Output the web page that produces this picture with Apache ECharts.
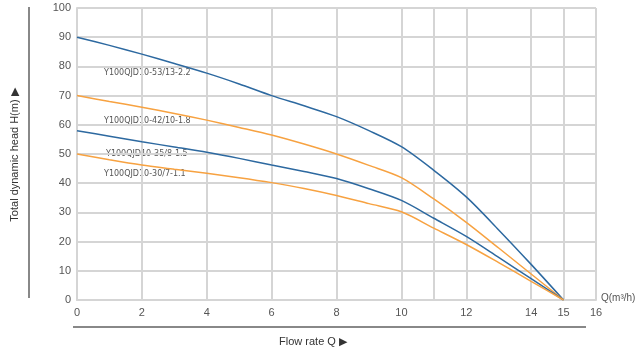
<!DOCTYPE html>
<html>
<head>
<meta charset="utf-8">
<script src="https://cdn.jsdelivr.net/npm/echarts@6/dist/echarts.min.js"></script>
<style>html,body{margin:0;padding:0;background:#fff;}#c{width:641px;height:349px;}</style>
</head>
<body>
<div id="c"></div>
<script>
// Flow rate Q (m3/h)
const flowQ = [0, 1, 2, 3, 4, 5, 6, 7, 8, 9, 10, 11, 12, 13, 14, 15];
// Head H (m) for each pump model
const head53 = [90, 87.2, 84.2, 81, 77.7, 74, 70, 66.5, 62.8, 58, 52.5, 44.4, 35.3, 24, 12.2, 0];
const head42 = [70, 68, 66, 63.9, 61.6, 59.1, 56.5, 53.4, 50, 46.1, 41.9, 34.6, 26.6, 17.8, 8.9, 0];
const head35 = [58, 56.1, 54.2, 52.4, 50.6, 48.5, 46.2, 44, 41.6, 38.1, 34.1, 28, 21.8, 14.6, 7.3, 0];
const head30 = [50, 48, 46.2, 44.8, 43.4, 41.9, 40.2, 38.2, 35.8, 33, 30.2, 24.6, 19, 12.8, 6.4, 0];
const modelNames = ['Y100QJD10-53/13-2.2', 'Y100QJD10-42/10-1.8', 'Y100QJD10-35/8-1.5', 'Y100QJD10-30/7-1.1'];
const xTickLabels = [0, 2, 4, 6, 8, 10, 12, 14, 15, 16];
const xGridValues = [0, 2, 4, 6, 8, 10, 11, 12, 14, 15, 16];

const BLUE = '#2d69a0', ORANGE = '#f7a241', GRID = '#d5d5d5', TXT = '#555';
const pairs = ys => flowQ.map((q, i) => [q, ys[i]]);

const xColors = [];
for (let v = 0; v <= 16; v++) xColors.push(xGridValues.includes(v) ? GRID : 'rgba(0,0,0,0)');

const mk = (ys, color) => ({
  type: 'line', data: pairs(ys), smooth: 0.3, symbol: 'none',
  lineStyle: { color: color, width: 1.5 }, z: 3
});

const chart = echarts.init(document.getElementById('c'), null, { renderer: 'canvas' });
chart.setOption({
  animation: false,
  backgroundColor: '#fff',
  grid: { left: 77, right: 45, top: 8, bottom: 49, containLabel: false },
  xAxis: {
    type: 'value', min: 0, max: 16, interval: 1,
    axisLine: { show: true, lineStyle: { color: GRID, width: 2 } },
    axisTick: { show: false },
    axisLabel: {
      color: TXT, fontSize: 11, fontFamily: 'Liberation Sans, Arial, sans-serif', margin: 7,
      formatter: v => xTickLabels.includes(v) ? String(v) : ''
    },
    splitLine: { show: true, lineStyle: { color: xColors, width: 2 } }
  },
  yAxis: {
    type: 'value', min: 0, max: 100, interval: 10,
    axisLine: { show: true, lineStyle: { color: GRID, width: 2 } },
    axisTick: { show: false },
    axisLabel: { color: TXT, fontSize: 11, fontFamily: 'Liberation Sans, Arial, sans-serif', margin: 6 },
    splitLine: { show: true, lineStyle: { color: GRID, width: 2 } }
  },
  series: [mk(head53, BLUE), mk(head42, ORANGE), mk(head35, BLUE), mk(head30, ORANGE)],
  graphic: [
    { type: 'text', left: 104, top: 69, style: { text: modelNames[0], fill: TXT, font: '8px "DejaVu Sans", sans-serif' } },
    { type: 'text', left: 104, top: 117, style: { text: modelNames[1], fill: TXT, font: '8px "DejaVu Sans", sans-serif' } },
    { type: 'text', left: 106, top: 150, style: { text: modelNames[2], fill: TXT, font: '8px "DejaVu Sans", sans-serif' } },
    { type: 'text', left: 104, top: 170, style: { text: modelNames[3], fill: TXT, font: '8px "DejaVu Sans", sans-serif' } },
    { type: 'text', x: 601, y: 298, style: { text: 'Q(m³/h)', fill: TXT, font: '10px "Liberation Sans", Arial, sans-serif', verticalAlign: 'middle' } },
    { type: 'line', shape: { x1: 29, y1: 7, x2: 29, y2: 298 }, style: { stroke: '#888', lineWidth: 2 } },
    { type: 'line', shape: { x1: 73, y1: 327, x2: 586, y2: 327 }, style: { stroke: '#888', lineWidth: 2 } },
    { type: 'text', x: 313, y: 342, style: { text: 'Flow rate Q ▶', fill: '#333', font: '11px "Liberation Sans", Arial, sans-serif', align: 'center', verticalAlign: 'middle' } },
    { type: 'text', x: 15, y: 155, rotation: Math.PI / 2, style: { text: 'Total dynamic head H(m) ▶', fill: '#333', font: '11px "Liberation Sans", Arial, sans-serif', align: 'center', verticalAlign: 'middle' } }
  ]
});
</script>
</body>
</html>
